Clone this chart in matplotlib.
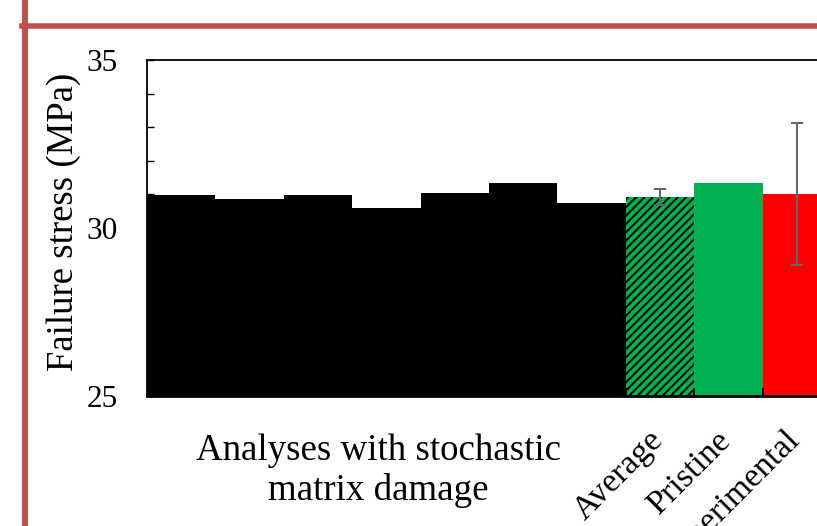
import matplotlib.pyplot as plt
from matplotlib.lines import Line2D
from matplotlib.ticker import MultipleLocator
import matplotlib.transforms as mtransforms

# stochastic runs, then average / pristine / experimental
run_values = [30.98, 30.85, 30.98, 30.59, 31.03, 31.33, 30.74]
summary_labels = ['Average', 'Pristine', 'Experimental']
summary_values = [30.92, 31.34, 31.01]
summary_errors = [0.23, 0.0, 2.12]
summary_colors = ['#00B050', '#00B050', '#FF0000']
summary_hatches = ['////', '', '']

y_ticks = [25, 30, 35]
group_label = 'Analyses with stochastic\nmatrix damage'
y_label = 'Failure stress (MPa)'


def draw_border(fig):
    red = '#C0504D'
    fig.add_artist(Line2D([25 / 817, 25 / 817], [0, 1], color=red, lw=4.3,
                          transform=fig.transFigure))
    fig.add_artist(Line2D([22 / 817, 1], [1 - 26 / 526, 1 - 26 / 526], color=red, lw=4.0,
                          transform=fig.transFigure))


def plot_chart():
    plt.rcParams['font.family'] = ['Liberation Serif', 'DejaVu Serif']
    plt.rcParams['hatch.linewidth'] = 1.4

    fig = plt.figure(figsize=(8.17, 5.26), dpi=100)
    ax = fig.add_axes([147 / 817, 130 / 526, 684 / 817, 336 / 526])

    n = len(run_values)
    xs = [i + 0.5 for i in range(n)]
    ax.bar(xs, [v - 25 for v in run_values], bottom=25, width=1.0, color='black')

    sx = [n + i + 0.5 for i in range(len(summary_values))]
    for x, v, c, h in zip(sx, summary_values, summary_colors, summary_hatches):
        ax.bar(x, v - 25, bottom=25, width=1.0, color=c, hatch=h, edgecolor='black' if h else c,
               linewidth=0)
    for x, v, e in zip(sx, summary_values, summary_errors):
        if e > 0:
            ax.errorbar(x, v, yerr=e, fmt='none', ecolor='#666666', elinewidth=1.5,
                        capsize=4.5, capthick=1.5)

    ax.set_xlim(0, n + len(summary_values))
    ax.set_ylim(25, 35)
    ax.set_yticks(y_ticks)
    ax.yaxis.set_minor_locator(MultipleLocator(1))
    ax.tick_params(axis='y', which='both', direction='in', length=5, width=1,
                   labelsize=22.5, pad=21)

    ax.set_xticks(range(1, n + len(summary_values)))
    ax.set_xticklabels([])
    ax.tick_params(axis='x', which='major', direction='in', length=6, width=1.5)
    ax.set_xticks(sx, minor=True)
    ax.set_xticklabels(summary_labels, minor=True, rotation=45, ha='right', fontsize=24.5)
    ax.tick_params(axis='x', which='minor', length=0, pad=21)
    offset = mtransforms.ScaledTranslation(9 / 100, 0, fig.dpi_scale_trans)
    for lbl in ax.get_xticklabels(minor=True):
        lbl.set_transform(lbl.get_transform() + offset)

    for side in ['left', 'top', 'right']:
        ax.spines[side].set_linewidth(1.3)
    ax.spines['bottom'].set_linewidth(2)

    fig.text(64 / 817, 1 - 222 / 526, y_label, rotation=90, ha='center', va='center',
             fontsize=26.5)
    fig.text(378 / 817, 1 - 471 / 526, group_label, ha='center', va='center',
             fontsize=26.6, linespacing=1.2)

    draw_border(fig)
    fig.savefig('out.png', dpi=100)


def main():
    plot_chart()


if __name__ == "__main__":
    main()
